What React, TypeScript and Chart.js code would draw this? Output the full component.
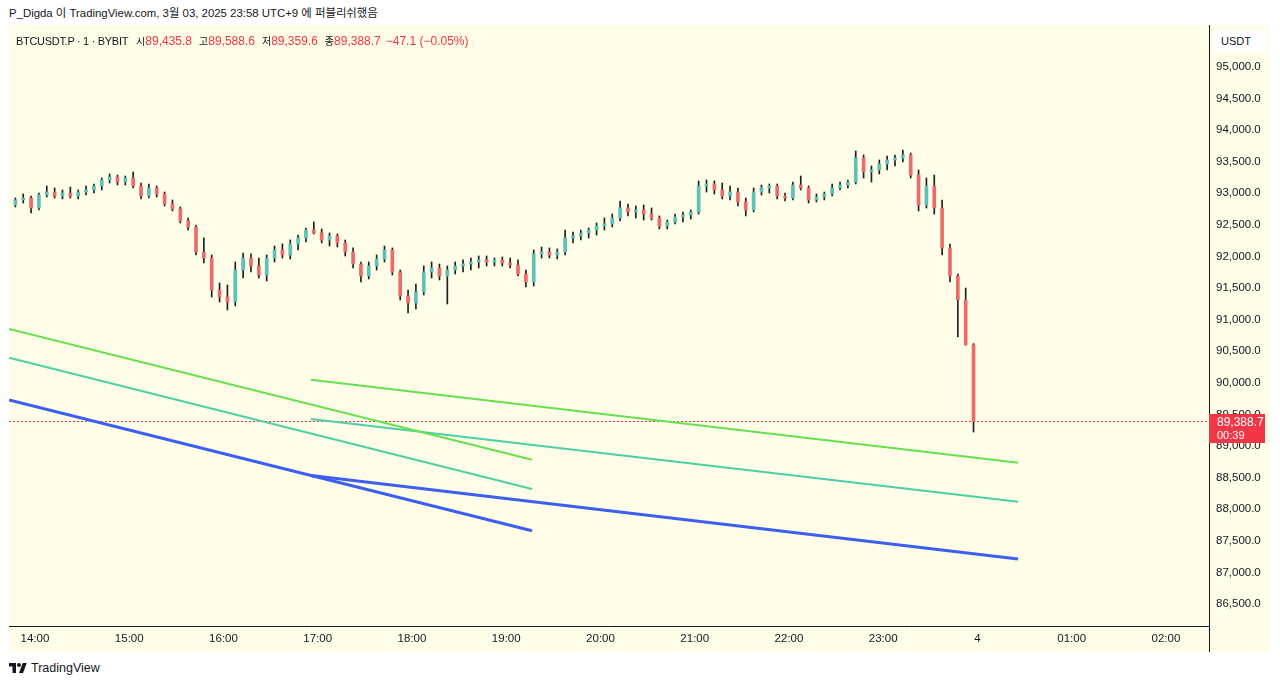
import React, { useEffect, useRef } from 'react';
import { Chart, registerables } from 'chart.js';

Chart.register(...registerables);

// ---- data (5-minute candles) ----
const firstCandleMinute = -15; // 13:45, minutes relative to 14:00
const candleMinutes = 5;

const opens = [
  92814, 92893, 92924, 92766, 92972, 93019, 92956, 93003, 92956, 93019,
  93051, 93114, 93209, 93257, 93177, 93241, 93114, 92956, 93083, 92988,
  92829, 92750, 92561, 92466, 92070, 91975, 91469, 91358, 91279, 91785,
  91975, 91849, 91706, 91975, 92102, 92023, 92197, 92292, 92418, 92371,
  92260, 92323, 92213, 92070, 91880, 91690, 91849, 91959, 92102, 91754,
  91374, 91263, 91437, 91754, 91817, 91690, 91785, 91849, 91880, 91912,
  91944, 91912, 91944, 91896, 91864, 91722, 91595, 92039, 92070, 92023,
  92070, 92292, 92323, 92371, 92418, 92481, 92513, 92608, 92766, 92703,
  92735, 92671, 92608, 92481, 92545, 92624, 92655, 92703, 93114, 93146,
  93051, 92956, 93019, 92861, 92735, 93019, 93083, 93114, 92956, 92924,
  93130, 93083, 92893, 92940, 92988, 93083, 93130, 93177, 93557, 93336,
  93368, 93462, 93526, 93557, 93605, 93288, 92814, 93114, 92766, 92134,
  91690, 91311, 90599,
];
const highs = [
  92924, 92988, 92956, 93003, 93114, 93083, 93051, 93098, 93051, 93114,
  93146, 93241, 93304, 93288, 93272, 93336, 93162, 93146, 93114, 93019,
  92893, 92782, 92608, 92497, 92292, 92023, 91580, 91548, 91912, 92054,
  92039, 91975, 92023, 92165, 92197, 92260, 92339, 92450, 92545, 92434,
  92371, 92355, 92260, 92134, 91912, 91912, 92023, 92165, 92134, 91785,
  91469, 91564, 91849, 91912, 91880, 91849, 91912, 91944, 91975, 92007,
  92007, 91975, 91991, 91975, 91944, 91785, 92102, 92149, 92134, 92118,
  92418, 92386, 92418, 92450, 92529, 92608, 92671, 92877, 92829, 92798,
  92814, 92766, 92640, 92576, 92671, 92703, 92735, 93193, 93209, 93193,
  93162, 93114, 93083, 92924, 93083, 93130, 93146, 93146, 93003, 93177,
  93272, 93114, 92988, 93019, 93146, 93177, 93209, 93668, 93605, 93431,
  93526, 93589, 93605, 93684, 93636, 93368, 93241, 93288, 92893, 92197,
  91722, 91500, 90620,
];
const lows = [
  92782, 92845, 92687, 92735, 92940, 92924, 92909, 92924, 92909, 92972,
  93003, 93051, 93162, 93130, 93130, 93083, 92909, 92924, 92940, 92798,
  92719, 92529, 92418, 92023, 91896, 91358, 91279, 91153, 91216, 91659,
  91754, 91659, 91611, 91912, 91975, 91959, 92102, 92228, 92355, 92213,
  92165, 92149, 92007, 91817, 91595, 91643, 91785, 91912, 91706, 91311,
  91105, 91168, 91390, 91659, 91627, 91247, 91722, 91754, 91785, 91817,
  91849, 91849, 91849, 91817, 91690, 91516, 91532, 91975, 91975, 91959,
  92023, 92213, 92260, 92292, 92339, 92418, 92466, 92561, 92640, 92608,
  92576, 92576, 92434, 92434, 92513, 92545, 92592, 92671, 93019, 92988,
  92909, 92893, 92798, 92640, 92703, 92972, 93003, 92909, 92877, 92893,
  93051, 92845, 92861, 92893, 92956, 93051, 93083, 93146, 93241, 93177,
  93304, 93368, 93431, 93494, 93241, 92719, 92766, 92671, 92023, 91595,
  90725, 90599, 89222,
];
const closes = [
  92893, 92924, 92766, 92972, 93019, 92956, 93003, 92956, 93019, 93051,
  93114, 93209, 93257, 93177, 93241, 93114, 92956, 93083, 92988, 92829,
  92750, 92561, 92466, 92070, 91975, 91469, 91358, 91279, 91785, 91975,
  91849, 91706, 91975, 92102, 92023, 92197, 92292, 92418, 92371, 92260,
  92323, 92213, 92070, 91880, 91690, 91849, 91959, 92102, 91754, 91374,
  91263, 91437, 91754, 91817, 91690, 91785, 91849, 91880, 91912, 91944,
  91912, 91944, 91896, 91864, 91722, 91595, 92039, 92070, 92023, 92070,
  92292, 92323, 92371, 92418, 92481, 92513, 92608, 92766, 92703, 92735,
  92671, 92608, 92481, 92545, 92624, 92655, 92703, 93114, 93146, 93051,
  92956, 93019, 92861, 92735, 93019, 93083, 93114, 92956, 92924, 93130,
  93083, 92893, 92940, 92988, 93083, 93130, 93177, 93557, 93336, 93368,
  93462, 93526, 93557, 93605, 93288, 92814, 93114, 92766, 92134, 91690,
  91311, 90599, 89388.7,
];

// trend lines: [startMinute, startPrice, endMinute, endPrice]
const greenLineA = [-16.5, 90852, 316.4, 88784];
const tealLineA = [-16.5, 90398, 316.4, 88321];
const blueLineA = [-16.5, 89729, 316.4, 87661];
const greenLineB = [175.7, 90050, 625.8, 88737];
const tealLineB = [175.7, 89428, 625.8, 88120];
const blueLineB = [175.7, 88534, 625.8, 87213];

const timeTickMinutes = [0, 60, 120, 180, 240, 300, 360, 420, 480, 540, 600, 660, 720];
const timeTickLabels = ['14:00', '15:00', '16:00', '17:00', '18:00', '19:00', '20:00', '21:00', '22:00', '23:00', '4', '01:00', '02:00'];
const priceTicks = [95000, 94500, 94000, 93500, 93000, 92500, 92000, 91500, 91000, 90500, 90000, 89500, 89000, 88500, 88000, 87500, 87000, 86500];

const legendOpen = '89,435.8';
const legendHigh = '89,588.6';
const legendLow = '89,359.6';
const legendClose = '89,388.7';
const legendChange = '\u221247.1 (\u22120.05%)';
const countdown = '00:39';

// ---- styles ----
const X_MIN = -16.55;
const X_MAX = 747.4;
const Y_MIN = 86153;
const Y_MAX = 95661;
const UP = '#5cc2b7';
const DOWN = '#ec6b6b';
const WICK = '#1e1e1e';
const RED = '#f23645';
const TEXT = '#131722';
const FONT = "'Liberation Sans', 'Noto Sans CJK KR', Arial, sans-serif";

const fmtPrice = (v: number) =>
  v.toLocaleString('en-US', { minimumFractionDigits: 1, maximumFractionDigits: 1 });

const lastPriceTag = {
  id: 'lastPriceTag',
  beforeDatasetsDraw(chart: any) {
    const { ctx, chartArea } = chart;
    const y = chart.scales.y;
    const py = Math.round(y.getPixelForValue(closes[closes.length - 1])) + 0.5;
    ctx.save();
    ctx.strokeStyle = RED;
    ctx.lineWidth = 1;
    ctx.setLineDash([2, 2]);
    ctx.beginPath();
    ctx.moveTo(chartArea.left, py);
    ctx.lineTo(chartArea.right, py);
    ctx.stroke();
    ctx.restore();
  },
  afterDraw(chart: any) {
    const { ctx } = chart;
    const y = chart.scales.y;
    const last = closes[closes.length - 1];
    const py = y.getPixelForValue(last);
    ctx.save();
    ctx.fillStyle = RED;
    ctx.fillRect(y.left, Math.round(py) - 7, 56, 29);
    ctx.fillStyle = '#ffffff';
    ctx.textBaseline = 'middle';
    ctx.textAlign = 'left';
    ctx.font = `12px ${FONT}`;
    ctx.fillText(fmtPrice(last), y.left + 8, py + 1);
    ctx.font = `11px ${FONT}`;
    ctx.fillText(countdown, y.left + 8, py + 14);
    ctx.restore();
  },
};

function lineDataset(pts: number[], color: string, width: number) {
  return {
    type: 'line' as const,
    data: [
      { x: pts[0], y: pts[1] },
      { x: pts[2], y: pts[3] },
    ],
    borderColor: color,
    borderWidth: width,
    pointRadius: 0,
    tension: 0,
    fill: false,
    order: 1,
  };
}

export default function App() {
  const canvasRef = useRef<HTMLCanvasElement>(null);

  useEffect(() => {
    const xs = closes.map((_, i) => firstCandleMinute + i * candleMinutes + candleMinutes / 2);
    const bodies = xs.map((x, i) => ({ x, y: [opens[i], closes[i]] }));
    const wicks = xs.map((x, i) => ({ x, y: [lows[i], highs[i]] }));
    const bodyColors = closes.map((c, i) => (c >= opens[i] ? UP : DOWN));

    const chart = new Chart(canvasRef.current as HTMLCanvasElement, {
      type: 'bar',
      data: {
        datasets: [
          lineDataset(greenLineA, '#66e050', 2),
          lineDataset(tealLineA, '#4ccfa6', 2),
          lineDataset(blueLineA, '#3d5ff0', 3),
          lineDataset(greenLineB, '#66e050', 2),
          lineDataset(tealLineB, '#4ccfa6', 2),
          lineDataset(blueLineB, '#3d5ff0', 3),
          {
            type: 'bar',
            data: bodies,
            backgroundColor: bodyColors,
            barThickness: 3,
            grouped: false,
            minBarLength: 1,
            borderWidth: 0,
            order: 2,
          } as any,
          {
            type: 'bar',
            data: wicks,
            backgroundColor: WICK,
            barThickness: 1,
            grouped: false,
            borderWidth: 0,
            order: 3,
          } as any,
        ],
      },
      options: {
        responsive: false,
        maintainAspectRatio: false,
        animation: false,
        events: [],
        layout: { padding: 0 },
        font: { family: FONT },
        plugins: { legend: { display: false }, tooltip: { enabled: false } },
        scales: {
          x: {
            type: 'linear',
            min: X_MIN,
            max: X_MAX,
            offset: false,
            grid: { display: false, drawTicks: false, offset: false },
            border: { display: true, color: TEXT, width: 1 },
            afterBuildTicks: (s: any) => {
              s.ticks = timeTickMinutes.map((v) => ({ value: v }));
            },
            afterFit: (s: any) => {
              s.height = 26;
              s.paddingLeft = 0;
              s.paddingRight = 0;
            },
            ticks: {
              autoSkip: false,
              maxRotation: 0,
              padding: 6,
              color: TEXT,
              font: { family: FONT, size: 11.5 },
              callback: (_v: any, i: number) => timeTickLabels[i],
            },
          },
          y: {
            type: 'linear',
            position: 'right',
            min: Y_MIN,
            max: Y_MAX,
            grid: { display: false, drawTicks: false },
            border: { display: true, color: TEXT, width: 1 },
            afterBuildTicks: (s: any) => {
              s.ticks = priceTicks.map((v) => ({ value: v }));
            },
            afterFit: (s: any) => {
              s.width = 60;
              s.paddingTop = 0;
              s.paddingBottom = 0;
            },
            ticks: {
              padding: 7,
              color: TEXT,
              font: { family: FONT, size: 11.5 },
              callback: (v: any) => fmtPrice(Number(v)),
            },
          },
        },
      } as any,
      plugins: [lastPriceTag],
    });
    return () => chart.destroy();
  }, []);

  const kor = { fontSize: 10 };
  const sep = { marginLeft: 7, fontSize: 10 };
  return (
    <div
      style={{
        position: 'absolute',
        left: 0,
        top: 0,
        width: 1280,
        height: 685,
        background: '#ffffff',
        overflow: 'hidden',
        fontFamily: FONT,
        color: TEXT,
      }}
    >
      <div style={{ position: 'absolute', left: 9, top: 5, fontSize: 11.4, lineHeight: '16px', whiteSpace: 'nowrap' }}>
        P_Digda 이 TradingView.com, 3월 03, 2025 23:58 UTC+9 에 퍼블리쉬했음
      </div>
      <div style={{ position: 'absolute', left: 9, top: 25, width: 1260, height: 627, background: '#fffde7' }}>
        <canvas ref={canvasRef} width={1260} height={627} style={{ display: 'block', width: 1260, height: 627 }} />
        <div style={{ position: 'absolute', left: 1200, top: 601, width: 1, height: 26, background: TEXT }} />
        <div
          style={{
            position: 'absolute',
            left: 7,
            top: 8,
            fontSize: 12,
            lineHeight: '16px',
            whiteSpace: 'nowrap',
          }}
        >
          <span style={{ fontSize: 11, letterSpacing: -0.3 }}>BTCUSDT.P · 1 · BYBIT</span>
          <span style={{ marginLeft: 8, ...kor }}>시</span>
          <span style={{ color: RED }}>{legendOpen}</span>
          <span style={sep}>고</span>
          <span style={{ color: RED }}>{legendHigh}</span>
          <span style={sep}>저</span>
          <span style={{ color: RED }}>{legendLow}</span>
          <span style={sep}>종</span>
          <span style={{ color: RED }}>{legendClose}</span>
          <span style={{ color: RED, marginLeft: 5 }}>{legendChange}</span>
        </div>
        <div
          style={{
            position: 'absolute',
            left: 1204,
            top: 5,
            width: 53,
            height: 22,
            background: '#ffffff',
            borderRadius: 3,
            fontSize: 11,
            lineHeight: '22px',
            paddingLeft: 8,
            boxSizing: 'border-box',
          }}
        >
          USDT
        </div>
      </div>
      <div style={{ position: 'absolute', left: 9, top: 660, display: 'flex', alignItems: 'center', height: 16 }}>
        <svg width="18" height="12" viewBox="0 0 36 24" style={{ display: 'block' }}>
          <path d="M14 22H7V9H0V2h14v20z" fill={TEXT} />
          <circle cx="20" cy="6" r="4" fill={TEXT} />
          <path d="M28 22h-8l7.5-20h8L28 22z" fill={TEXT} />
        </svg>
        <span style={{ marginLeft: 4, fontSize: 12.5, lineHeight: '16px' }}>TradingView</span>
      </div>
    </div>
  );
}
